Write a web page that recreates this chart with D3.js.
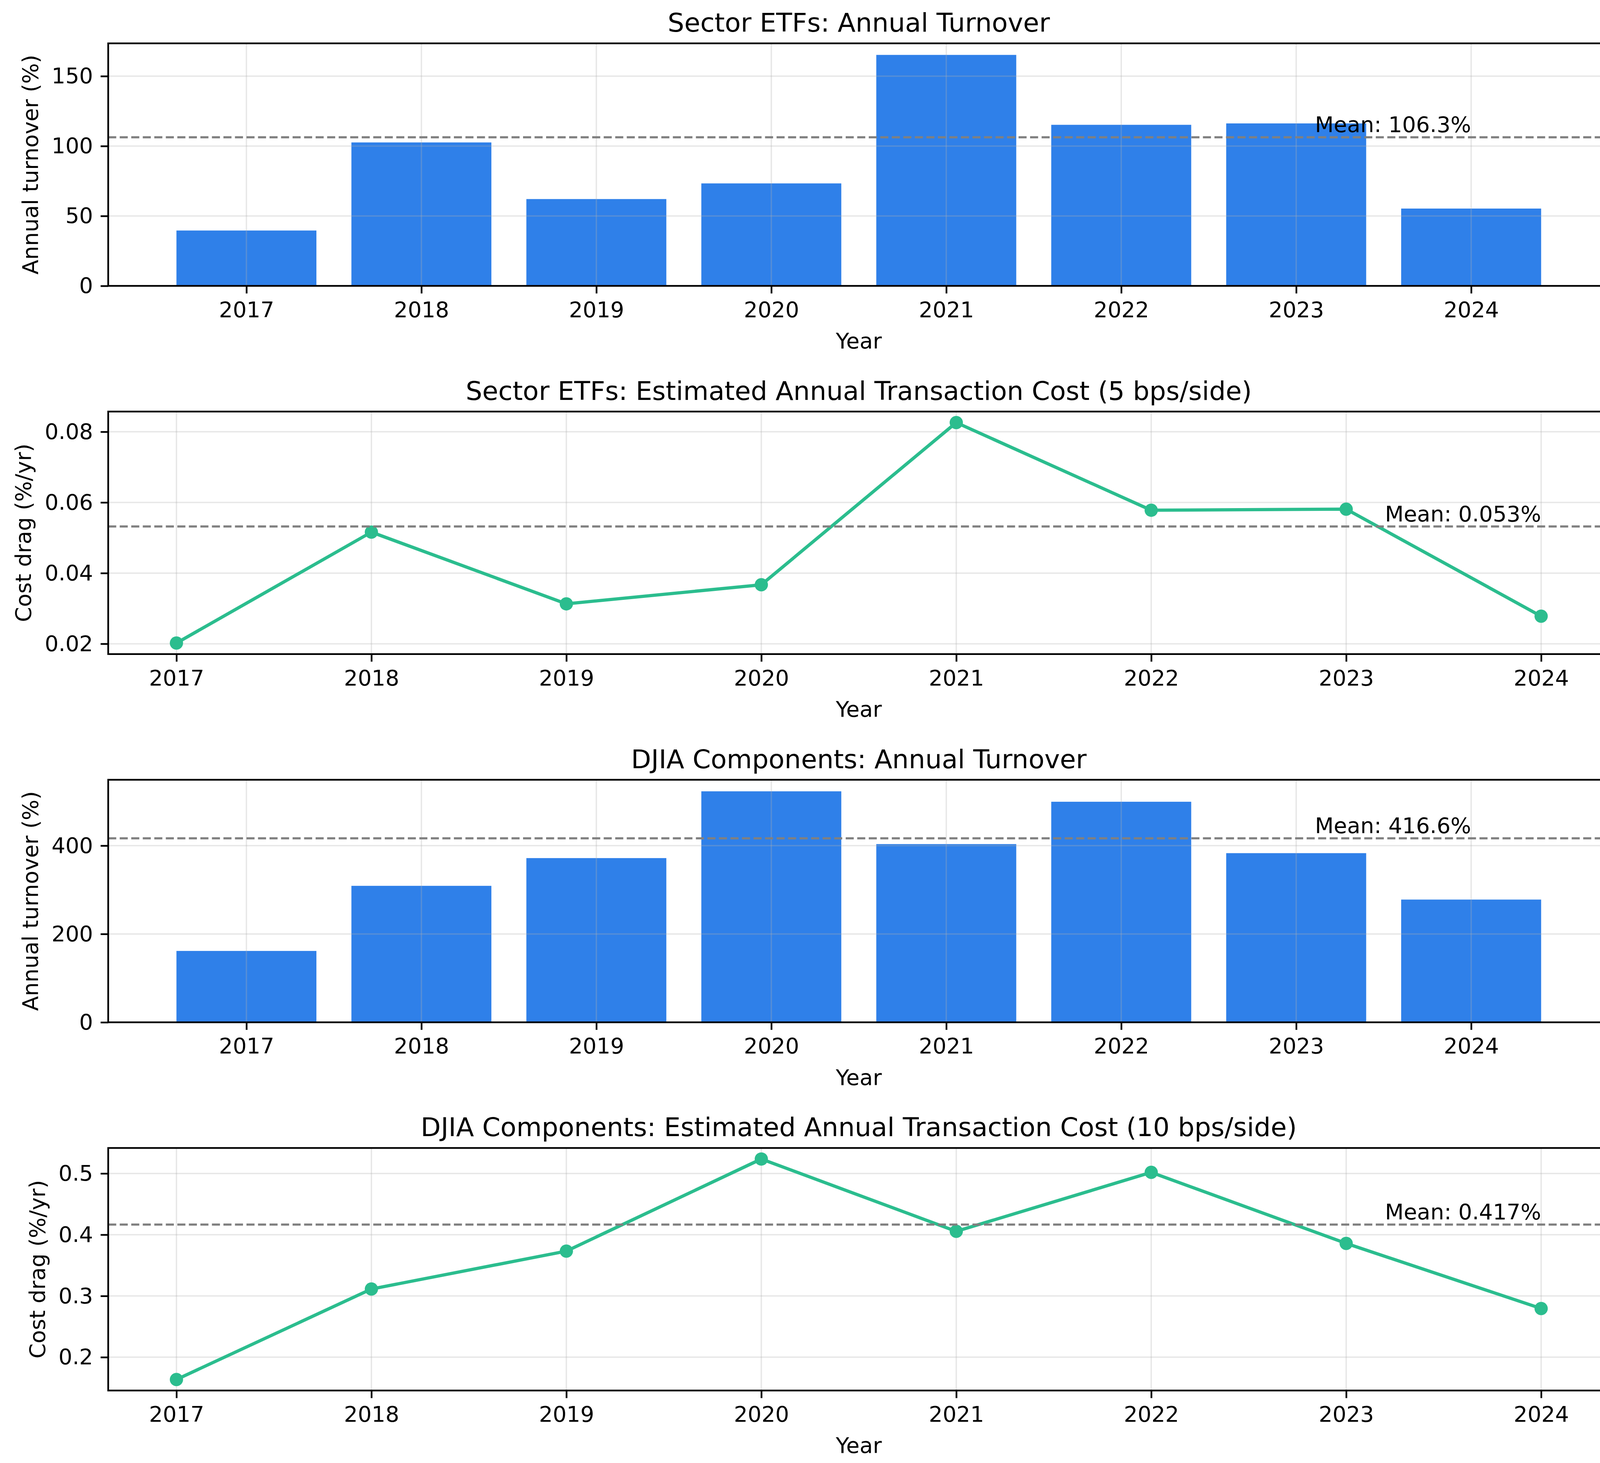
<!DOCTYPE html>
<html>
<head>
<meta charset="utf-8">
<script src="https://cdnjs.cloudflare.com/ajax/libs/d3/7.8.5/d3.min.js"></script>
<style>
  body { margin: 0; background: #fff; }
  text { font-family: "DejaVu Sans", sans-serif; fill: #000; }
</style>
</head>
<body>
<div id="the_chart"></div>
<script>
var years = [2017, 2018, 2019, 2020, 2021, 2022, 2023, 2024];
var sectorTurnover = [39.6, 102.6, 62.1, 73.3, 165.2, 115.2, 116.2, 55.3];
var sectorCost = [0.0202, 0.0516, 0.0313, 0.0367, 0.0826, 0.0578, 0.0581, 0.0278];
var djiaTurnover = [161.6, 309.0, 371.8, 523.0, 403.5, 499.4, 383.0, 277.9];
var djiaCost = [0.1636, 0.3113, 0.3732, 0.5236, 0.4055, 0.5018, 0.3858, 0.2795];
var means = [106.3, 0.0532, 416.6, 0.4166];
var meanFormats = [".1f", ".3f", ".1f", ".3f"];
var titles = [
	"Sector ETFs: Annual Turnover",
	"Sector ETFs: Estimated Annual Transaction Cost (5 bps/side)",
	"DJIA Components: Annual Turnover",
	"DJIA Components: Estimated Annual Transaction Cost (10 bps/side)"
];
var yLabels = ["Annual turnover (%)", "Cost drag (%/yr)", "Annual turnover (%)", "Cost drag (%/yr)"];
var yTicks = [[0, 50, 100, 150], [0.02, 0.04, 0.06, 0.08], [0, 200, 400], [0.2, 0.3, 0.4, 0.5]];
var yTickFormats = ["d", ".2f", "d", ".1f"];
var kinds = ["bar", "line", "bar", "line"];
var series = [sectorTurnover, sectorCost, djiaTurnover, djiaCost];

var w = 4144;
var h = 3746;
var left = 277, right = 4120;
var firstTop = 111, step = 942.8, ph = 621;
var fontTick = 55.6, fontTitle = 66.7;
var barColor = "#2f80e9";
var lineColor = "#2bbd8e";

var svg = d3.select("#the_chart")
	.append("svg")
	.attr("width", w)
	.attr("height", h)
	.style("background", "#fff");

for (var p = 0; p < 4; p++) {
	drawPanel(p);
}

function drawPanel(p) {
	var top = firstTop + p * step;
	var bottom = top + ph;
	var vals = series[p];
	var g = svg.append("g");

	var xscale, yscale;
	if (kinds[p] == "bar") {
		xscale = d3.scaleLinear().domain([years[0] - 0.79, years[years.length - 1] + 0.79]).range([left, right]);
		yscale = d3.scaleLinear().domain([0, d3.max(vals) * 1.05]).range([bottom, top]);
	} else {
		xscale = d3.scaleLinear().domain([years[0] - 0.35, years[years.length - 1] + 0.35]).range([left, right]);
		var mn = d3.min(vals), mx = d3.max(vals), rg = mx - mn;
		yscale = d3.scaleLinear().domain([mn - 0.05 * rg, mx + 0.05 * rg]).range([bottom, top]);
	}

	// bars
	if (kinds[p] == "bar") {
		g.selectAll("rect.bar")
			.data(vals)
			.enter().append("rect")
			.attr("class", "bar")
			.attr("x", function(d, i) { return xscale(years[i] - 0.4); })
			.attr("width", function(d, i) { return xscale(years[i] + 0.4) - xscale(years[i] - 0.4); })
			.attr("y", function(d) { return yscale(d); })
			.attr("height", function(d) { return yscale(0) - yscale(d); })
			.attr("fill", barColor);
	}

	// grid
	g.selectAll("line.vgrid")
		.data(years)
		.enter().append("line")
		.attr("x1", function(d) { return xscale(d); })
		.attr("x2", function(d) { return xscale(d); })
		.attr("y1", top).attr("y2", bottom)
		.attr("stroke", "#b0b0b0").attr("stroke-opacity", 0.3).attr("stroke-width", 3.5);
	g.selectAll("line.hgrid")
		.data(yTicks[p])
		.enter().append("line")
		.attr("x1", left).attr("x2", right)
		.attr("y1", function(d) { return yscale(d); })
		.attr("y2", function(d) { return yscale(d); })
		.attr("stroke", "#b0b0b0").attr("stroke-opacity", 0.3).attr("stroke-width", 3.5);

	// line + markers
	if (kinds[p] == "line") {
		var line = d3.line()
			.x(function(d, i) { return xscale(years[i]); })
			.y(function(d) { return yscale(d); });
		g.append("path")
			.datum(vals)
			.attr("d", line)
			.attr("fill", "none")
			.attr("stroke", lineColor)
			.attr("stroke-width", 8.3)
			.attr("stroke-linejoin", "round");
		g.selectAll("circle")
			.data(vals)
			.enter().append("circle")
			.attr("cx", function(d, i) { return xscale(years[i]); })
			.attr("cy", function(d) { return yscale(d); })
			.attr("r", 17)
			.attr("fill", lineColor);
	}

	// mean line
	g.append("line")
		.attr("x1", left).attr("x2", right)
		.attr("y1", yscale(means[p])).attr("y2", yscale(means[p]))
		.attr("stroke", "#808080")
		.attr("stroke-width", 5.56)
		.attr("stroke-dasharray", "20.6,8.9");

	g.append("text")
		.attr("x", xscale(years[years.length - 1]))
		.attr("y", yscale(means[p]) - 13)
		.attr("text-anchor", "end")
		.attr("font-size", fontTick)
		.text("Mean: " + d3.format(meanFormats[p])(means[p]) + "%");

	// axes
	var xaxis = d3.axisBottom(xscale)
		.tickValues(years)
		.tickFormat(d3.format("d"))
		.tickSize(19.4)
		.tickPadding(21);
	var gx = g.append("g")
		.attr("transform", "translate(0," + bottom + ")")
		.call(xaxis);
	gx.select(".domain").remove();
	gx.selectAll("line").attr("stroke-width", 4.4);
	gx.selectAll("text").attr("font-size", fontTick).attr("font-family", "DejaVu Sans");

	var yaxis = d3.axisLeft(yscale)
		.tickValues(yTicks[p])
		.tickFormat(d3.format(yTickFormats[p]))
		.tickSize(19.4)
		.tickPadding(19.4);
	var gy = g.append("g")
		.attr("transform", "translate(" + left + ",0)")
		.call(yaxis);
	gy.select(".domain").remove();
	gy.selectAll("line").attr("stroke-width", 4.4);
	gy.selectAll("text").attr("font-size", fontTick).attr("font-family", "DejaVu Sans");

	// spines
	g.append("rect")
		.attr("x", left).attr("y", top)
		.attr("width", right - left).attr("height", bottom - top)
		.attr("fill", "none")
		.attr("stroke", "#000")
		.attr("stroke-width", 4.4);

	// labels
	var minX = d3.min(gy.selectAll("text").nodes(), function(n) { return n.getBBox().x; });
	var labX = left + minX - 22 - 13;
	g.append("text")
		.attr("transform", "translate(" + labX + "," + ((top + bottom) / 2) + ") rotate(-90)")
		.attr("text-anchor", "middle")
		.attr("font-size", fontTick)
		.text(yLabels[p]);

	g.append("text")
		.attr("x", (left + right) / 2)
		.attr("y", bottom + 160)
		.attr("text-anchor", "middle")
		.attr("font-size", fontTick)
		.text("Year");

	g.append("text")
		.attr("x", (left + right) / 2)
		.attr("y", top - 30)
		.attr("text-anchor", "middle")
		.attr("font-size", fontTitle)
		.text(titles[p]);
}
</script>
</body>
</html>
